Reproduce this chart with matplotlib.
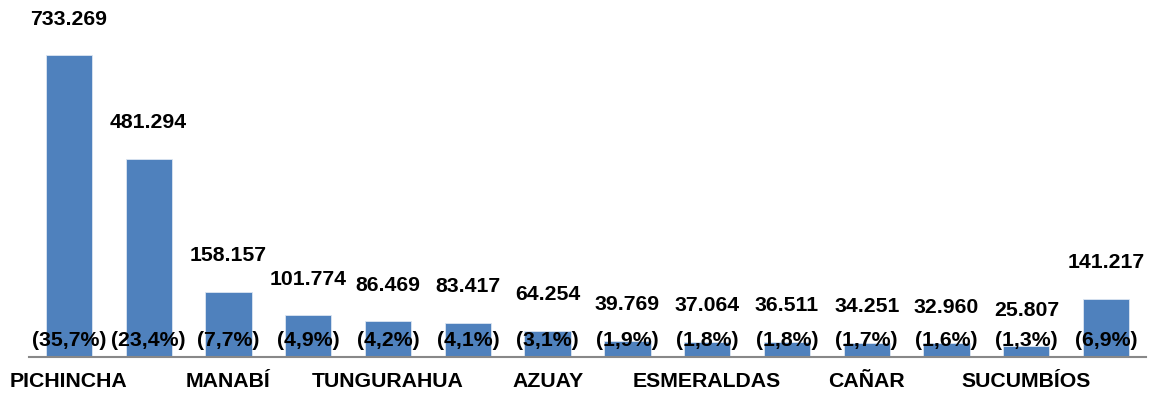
import matplotlib
matplotlib.use("Agg")
import matplotlib.pyplot as plt

provinces = ["PICHINCHA", "GUAYAS", "MANABÍ", "EL ORO", "TUNGURAHUA", "LOS RÍOS",
             "AZUAY", "LOJA", "ESMERALDAS", "IMBABURA", "CAÑAR", "CHIMBORAZO",
             "SUCUMBÍOS", "OTRAS"]
values = [733269, 481294, 158157, 101774, 86469, 83417, 64254,
          39769, 37064, 36511, 34251, 32960, 25807, 141217]
shares = [35.7, 23.4, 7.7, 4.9, 4.2, 4.1, 3.1, 1.9, 1.8, 1.8, 1.7, 1.6, 1.3, 6.9]

BAR = "#4F81BD"
plt.rcParams["font.family"] = ["Liberation Sans", "DejaVu Sans"]

fig = plt.figure(figsize=(11.5, 3.96), dpi=100)
# axes spans from the baseline (y=357px) up to the top edge
ax = fig.add_axes([29 / 1150, 1 - 357 / 396, (1146 - 29) / 1150, 357 / 396])

x = list(range(len(values)))
ax.bar(x, values, width=0.58, color=BAR, edgecolor="#dce6f2", linewidth=0.6, zorder=2)

ymax = 733269 * 357 / 302
ax.set_ylim(0, ymax)
ax.set_xlim(-0.5, len(values) - 0.5)

px = ymax / 357  # data units per pixel
for xi, v, s in zip(x, values, shares):
    ax.text(xi, v + 36 * px, f"{v:,}".replace(",", "."), ha="center", va="center",
            fontsize=15.3, fontweight="bold", color="black", zorder=3)
    ax.text(xi, 17 * px, f"({s:.1f}%)".replace(".", ","), ha="center", va="center",
            fontsize=15.3, fontweight="bold", color="black", zorder=3)

ax.set_xticks(x)
ax.set_xticklabels([p if i % 2 == 0 else "" for i, p in enumerate(provinces)],
                   fontsize=15.3, fontweight="bold")
ax.tick_params(axis="x", length=0, pad=11)
ax.set_yticks([])
for side in ["top", "right", "left"]:
    ax.spines[side].set_visible(False)
ax.spines["bottom"].set_color("#888888")
ax.spines["bottom"].set_linewidth(1.5)

fig.savefig("out.png", dpi=100)
